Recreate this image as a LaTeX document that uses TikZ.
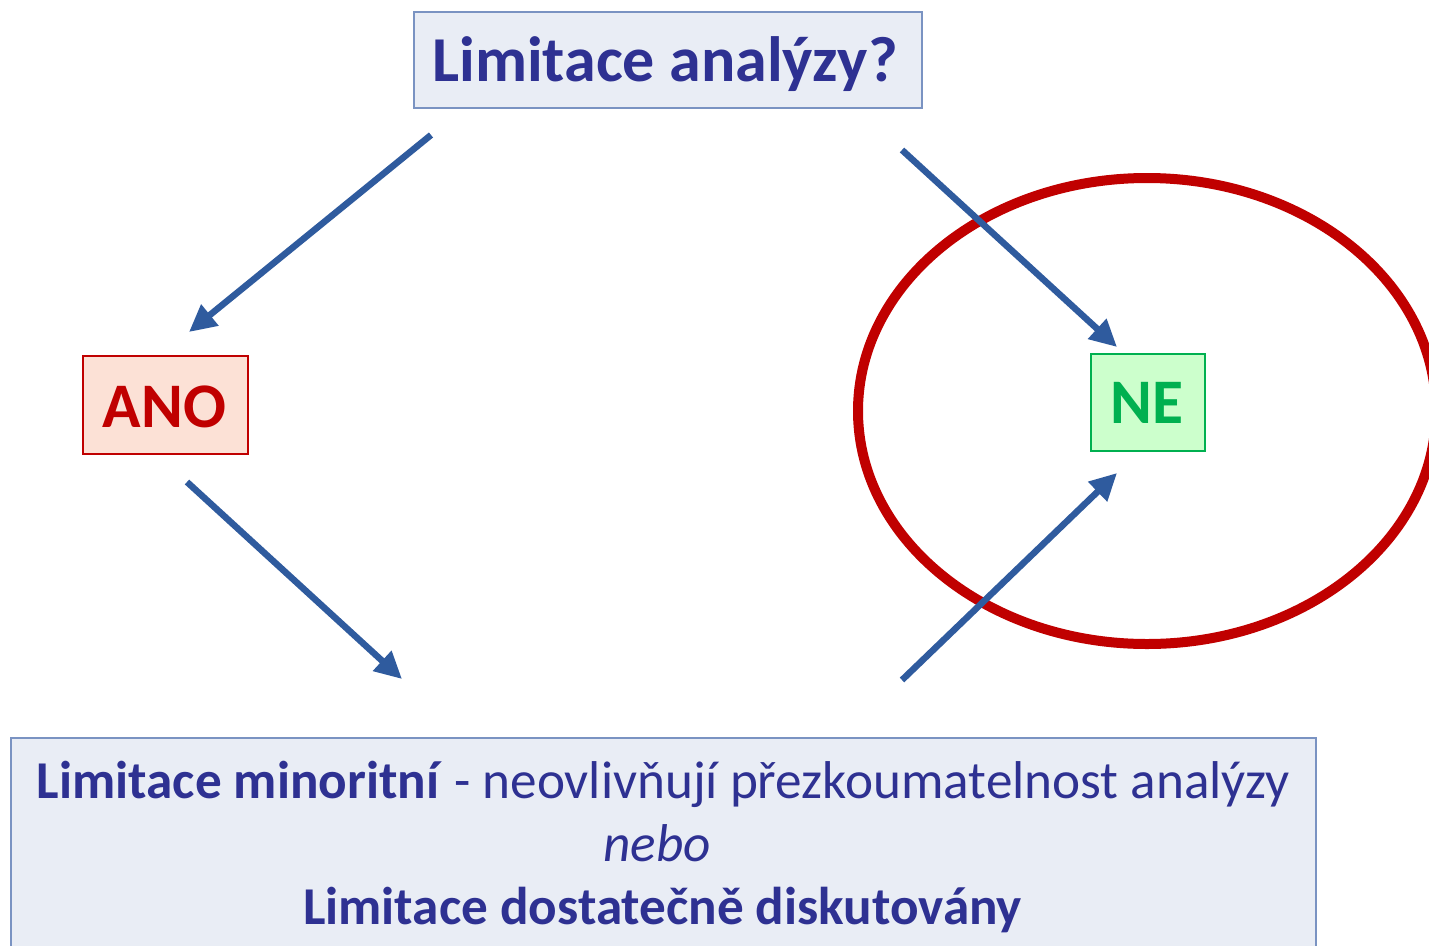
\documentclass[tikz,border=0pt]{standalone}
\usepackage{fontspec}
\setmainfont{Carlito}
\usetikzlibrary{arrows.meta}
\definecolor{txtblue}{HTML}{2E3192}
\definecolor{boxfill}{HTML}{E9EDF5}
\definecolor{boxline}{HTML}{7A93C2}
\definecolor{arrblue}{HTML}{2F5B9E}
\definecolor{darkred}{HTML}{C00000}
\definecolor{anofill}{HTML}{FCE1D6}
\definecolor{nefill}{HTML}{CCFFCC}
\definecolor{negreen}{HTML}{00B050}
\tikzset{
  bluebox/.style={draw=boxline, line width=2pt, fill=boxfill, inner sep=0pt},
  anobox/.style={draw=darkred, line width=2pt, fill=anofill, inner sep=0pt},
  nebox/.style={draw=negreen, line width=2pt, fill=nefill, inner sep=0pt},
  conn/.style={draw=arrblue, line width=6.5pt, -{Triangle[length=27pt,width=26pt]}},
  lbl/.style={anchor=base, inner sep=0pt}
}
\begin{document}
\begin{tikzpicture}[x=1pt,y=-1pt]
\useasboundingbox (0,0) rectangle (1429,945);
\clip (0,0) rectangle (1429,945);
% ellipse
\draw[draw=darkred, line width=10pt] (1147,411) ellipse [x radius=289, y radius=233];
% boxes
\node[bluebox, minimum width=508pt, minimum height=96pt, anchor=north west] (top) at (413,11) {};
\node[lbl, font=\fontsize{64}{72}\selectfont\bfseries, text=txtblue] (toptext) at (665,81) {Limitace analýzy?};
\node[anobox, minimum width=165pt, minimum height=98pt, anchor=north west] (ano) at (82,355) {};
\node[lbl, font=\fontsize{63.5}{70}\selectfont\bfseries, text=darkred] (anotext) at (164.5,427) {ANO};
\node[nebox, minimum width=114pt, minimum height=97pt, anchor=north west] (ne) at (1090,353) {};
\node[lbl, font=\fontsize{63.5}{70}\selectfont\bfseries, text=negreen] (netext) at (1147,423) {NE};
\node[bluebox, minimum width=1305pt, minimum height=260pt, anchor=north west] (bottom) at (10,737) {};
\node[lbl, font=\fontsize{53.2}{60}\selectfont, text=txtblue] (line1) at (663.5,798) {\textbf{Limitace minoritní} - neovlivňují přezkoumatelnost analýzy};
\node[lbl, font=\fontsize{53.2}{60}\selectfont\itshape, text=txtblue] (line2) at (657,861) {nebo};
\node[lbl, font=\fontsize{53.2}{60}\selectfont\bfseries, text=txtblue] (line3) at (662.5,924) {Limitace dostatečně diskutovány};
% arrow endpoints
\coordinate (a1s) at (431,135);
\coordinate (a1e) at (189,332);
\coordinate (a2s) at (902,150);
\coordinate (a2e) at (1117,347);
\coordinate (a3s) at (187,482);
\coordinate (a3e) at (402,679);
\coordinate (a4s) at (902,680);
\coordinate (a4e) at (1117,473);
\draw[conn] (a1s) -- (a1e);
\draw[conn] (a2s) -- (a2e);
\draw[conn] (a3s) -- (a3e);
\draw[conn] (a4s) -- (a4e);
\end{tikzpicture}
\end{document}
